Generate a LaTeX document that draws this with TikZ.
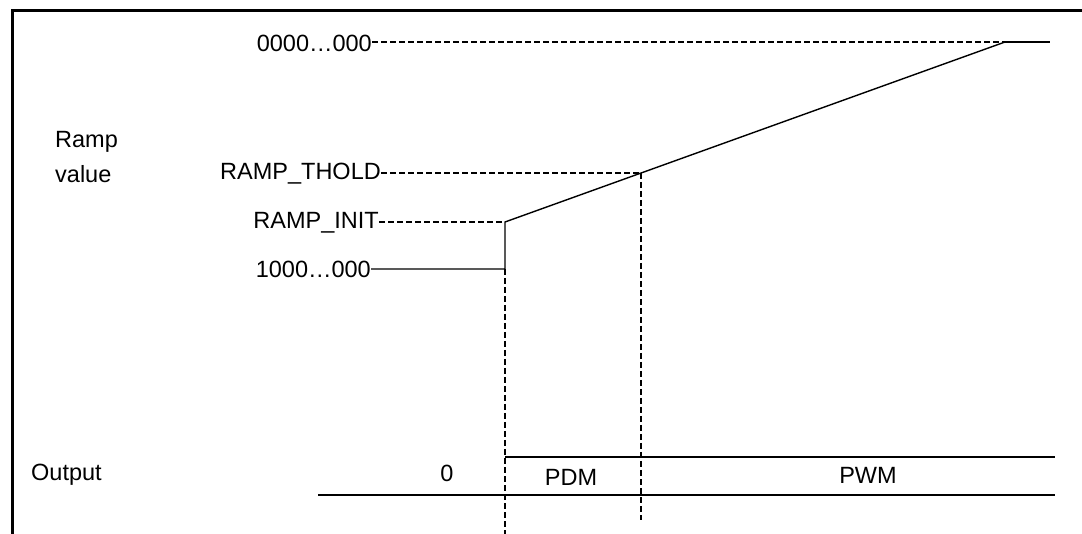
\documentclass[tikz,border=0pt]{standalone}
\usepackage{fontspec}
\setmainfont{Liberation Sans}
\begin{document}
\begin{tikzpicture}[x=1pt,y=-1pt,
  lbl/.style={inner sep=0pt,font=\fontsize{23.5}{28}\selectfont},
  dsh/.style={line width=1.6pt,dash pattern=on 6pt off 3pt},
  sol/.style={line width=1.4pt},
  frame/.style={line width=3pt}]
\useasboundingbox (0,0) rectangle (1082,534);
\draw[frame] (1082,11) -- (12,11) -- (12,534);
% labels
\node[lbl,anchor=east] (z) at (372,43) {0000\ldots000};
\node[lbl,anchor=east] (th) at (381,174) {RAMP\_THOLD};
\node[lbl,anchor=east] (in) at (379,223) {RAMP\_INIT};
\node[lbl,anchor=east] (one) at (371,269) {1000\ldots000};
\node[lbl,anchor=west] (ramp) at (55,142) {Ramp};
\node[lbl,anchor=west] (val) at (55,174) {value};
\node[lbl,anchor=west] (out) at (31,475) {Output};
\node[lbl] (zero) at (447,473) {0};
\node[lbl] (pdm) at (571,477) {PDM};
\node[lbl] (pwm) at (868,475) {PWM};
% key points
\coordinate (top) at (1005,42);
\coordinate (topend) at (1050,42);
\coordinate (ri) at (505,222);
\coordinate (rl) at (505,269);
\coordinate (tp) at (641,173);
\coordinate (v1b) at (505,534);
\coordinate (v2b) at (641,520);
\coordinate (o1) at (505,457);
\coordinate (o2) at (1055,457);
\coordinate (o3) at (318,495);
\coordinate (o4) at (1055,495);
% ramp
\draw[dsh] (z.east |- top) -- (top);
\draw[sol] (top) -- (topend);
\draw[sol] (one.east |- rl) -- (rl) -- (ri) -- (top);
\draw[dsh] (th.east |- tp) -- (tp);
\draw[dsh] (in.east |- ri) -- (ri);
\draw[dsh] (rl) -- (v1b);
\draw[dsh] (tp) -- (v2b);
% output
\draw[sol] (o1) -- (o2);
\draw[sol] (o3) -- (o4);
\end{tikzpicture}
\end{document}
